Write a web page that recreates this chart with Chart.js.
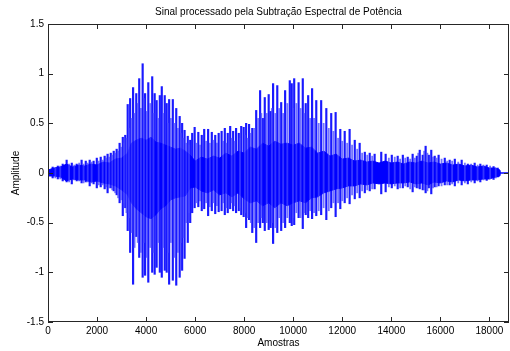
<!DOCTYPE html>
<html>
<head>
<meta charset="utf-8">
<title>Sinal processado pela Subtração Espectral de Potência</title>
<script src="https://cdn.jsdelivr.net/npm/chart.js@4"></script>
<style>
  html, body { margin: 0; padding: 0; background: #fff; }
  canvas { display: block; }
</style>
</head>
<body>
<canvas id="sinalChart" width="510" height="351"></canvas>
<script>
// ================= DATA =================
const xTicks = [0, 2000, 4000, 6000, 8000, 10000, 12000, 14000, 16000, 18000];
const yTicks = [-1.5, -1, -0.5, 0, 0.5, 1, 1.5];

// dense body of the waveform (envelope of the solid blue part)
const coreX = [0, 250, 500, 750, 1000, 1250, 1500, 1750, 2000, 2250, 2500, 2750, 3000, 3250, 3400, 3600, 3800, 4000, 4200, 4400, 4600, 4800, 5000, 5200, 5400, 5600, 5800,
  6000, 6250, 6500, 6750, 7000, 7250, 7500, 7750, 8000, 8250, 8500, 8750, 9000, 9250, 9500, 9750, 10000, 10250, 10500, 10750, 11000, 11250, 11500, 11750, 12000,
  12250, 12500, 12750, 13000, 13250, 13500, 13750, 14000, 14250, 14500, 14750, 15000, 15250, 15500, 15750, 16000, 16250, 16500, 16750, 17000, 17250, 17500, 17750, 18000, 18250, 18430, 18450, 18800];
const coreTop = [0.03, 0.05, 0.06, 0.09, 0.06, 0.08, 0.07, 0.09, 0.08, 0.11, 0.10, 0.14, 0.15, 0.20, 0.30, 0.33, 0.35, 0.33, 0.36, 0.31, 0.30, 0.28, 0.26, 0.24, 0.25, 0.22, 0.18,
  0.12, 0.16, 0.14, 0.17, 0.15, 0.20, 0.17, 0.22, 0.20, 0.26, 0.24, 0.30, 0.27, 0.32, 0.29, 0.30, 0.28, 0.30, 0.25, 0.26, 0.20, 0.22, 0.17, 0.19, 0.14,
  0.15, 0.12, 0.13, 0.11, 0.12, 0.10, 0.12, 0.10, 0.11, 0.09, 0.11, 0.10, 0.12, 0.10, 0.11, 0.09, 0.10, 0.08, 0.09, 0.07, 0.08, 0.06, 0.07, 0.05, 0.05, 0.03, 0, 0];
const coreBottom = [-0.03, -0.03, -0.04, -0.08, -0.06, -0.07, -0.07, -0.09, -0.08, -0.10, -0.11, -0.13, -0.17, -0.22, -0.30, -0.36, -0.40, -0.44, -0.46, -0.42, -0.36, -0.33, -0.27, -0.25, -0.24, -0.23, -0.15,
  -0.14, -0.18, -0.20, -0.17, -0.22, -0.20, -0.24, -0.20, -0.26, -0.30, -0.28, -0.33, -0.30, -0.35, -0.30, -0.33, -0.30, -0.28, -0.30, -0.25, -0.24, -0.20, -0.18, -0.16, -0.15,
  -0.13, -0.13, -0.11, -0.12, -0.10, -0.11, -0.10, -0.11, -0.10, -0.10, -0.09, -0.11, -0.10, -0.12, -0.09, -0.10, -0.08, -0.09, -0.07, -0.08, -0.07, -0.07, -0.06, -0.06, -0.04, -0.03, 0, 0];

// tall peaks sticking out of the body (sample index, max, min)
const spikeX = [
  190, 400, 600, 760, 970, 1170, 1370, 1540, 1700, 1860, 1990, 2150, 2310, 2430, 2560, 2680, 2800, 2920, 3050, 3150,
  3250, 3350, 3470, 3600, 3720, 3860, 3960, 4090, 4250, 4350, 4430, 4560, 4640, 4760, 4840, 4940, 5090, 5230, 5370, 5470, 5570, 5700, 5800, 5880,
  5980, 6130, 6270, 6370, 6530, 6680, 6820, 6960, 7080, 7210, 7330, 7430, 7550, 7670, 7780, 7880, 7980, 8080, 8200, 8330,
  8490, 8650, 8760, 8840, 9000, 9080, 9180, 9350, 9510, 9670, 9860, 9940, 10040, 10220, 10390, 10510, 10610, 10770, 10940, 11140,
  11350, 11550, 11730, 11920, 12100, 12300, 12510, 12710, 12920, 13120, 13320, 13590,
  13770, 14020, 14260, 14470, 14670, 14870, 15040, 15160, 15280, 15400, 15530, 15630, 15770, 15930, 16180, 16380, 16590, 16870, 17120, 17400, 17630, 17890, 18170, 18340
];
const spikeTop = [
  0.06, 0.07, 0.09, 0.13, 0.10, 0.09, 0.13, 0.12, 0.13, 0.12, 0.15, 0.16, 0.17, 0.19, 0.20, 0.22, 0.24, 0.30, 0.36, 0.38,
  0.69, 0.75, 0.86, 0.80, 0.95, 1.10, 0.80, 0.91, 0.97, 0.80, 0.73, 0.78, 0.87, 0.78, 0.70, 0.74, 0.74, 0.65, 0.57, 0.50, 0.43, 0.37, 0.33, 0.40,
  0.46, 0.41, 0.38, 0.44, 0.44, 0.41, 0.38, 0.40, 0.42, 0.45, 0.40, 0.47, 0.42, 0.45, 0.40, 0.47, 0.46, 0.50, 0.49, 0.45,
  0.63, 0.83, 0.55, 0.76, 0.79, 0.62, 0.90, 0.88, 0.71, 0.83, 0.93, 0.90, 0.95, 0.91, 0.95, 0.70, 0.78, 0.85, 0.73, 0.73,
  0.65, 0.60, 0.61, 0.44, 0.42, 0.44, 0.33, 0.30, 0.21, 0.20, 0.19, 0.21,
  0.19, 0.18, 0.17, 0.18, 0.16, 0.19, 0.17, 0.23, 0.18, 0.27, 0.18, 0.23, 0.17, 0.18, 0.15, 0.13, 0.14, 0.13, 0.09, 0.10, 0.09, 0.08, 0.065, 0.05
];
const spikeBottom = [
  -0.05, -0.06, -0.08, -0.09, -0.11, -0.08, -0.10, -0.09, -0.13, -0.11, -0.15, -0.14, -0.16, -0.20, -0.15, -0.18, -0.22, -0.30, -0.43, -0.35,
  -0.58, -0.80, -1.12, -0.64, -0.85, -1.05, -1.03, -1.10, -1.00, -1.02, -0.95, -1.00, -1.05, -0.98, -1.00, -1.12, -1.08, -1.13, -1.05, -0.98, -0.86, -0.70, -0.50, -0.40,
  -0.35, -0.34, -0.38, -0.36, -0.43, -0.38, -0.41, -0.39, -0.38, -0.42, -0.40, -0.36, -0.38, -0.40, -0.38, -0.42, -0.44, -0.55, -0.47, -0.60,
  -0.70, -0.55, -0.50, -0.58, -0.57, -0.55, -0.71, -0.60, -0.58, -0.55, -0.50, -0.53, -0.52, -0.45, -0.56, -0.42, -0.45, -0.46, -0.43, -0.42,
  -0.47, -0.35, -0.44, -0.36, -0.30, -0.31, -0.26, -0.25, -0.20, -0.18, -0.16, -0.21,
  -0.19, -0.15, -0.16, -0.15, -0.14, -0.19, -0.15, -0.16, -0.17, -0.20, -0.15, -0.21, -0.14, -0.13, -0.12, -0.12, -0.13, -0.12, -0.11, -0.10, -0.09, -0.075, -0.065, -0.04
];

// smaller peaks in between the tall ones (drawn lighter)
const minorX = [
  300, 500, 860, 1070, 1270, 1450, 1620, 1780, 2070, 2230, 2370, 2500, 2620, 2740, 2860, 2980, 3100, 3200,
  3300, 3410, 3530, 3660, 3790, 3910, 4030, 4170, 4300, 4500, 4700, 4890, 5010, 5160, 5300, 5420, 5520, 5640, 5750,
  6050, 6200, 6450, 6600, 6750, 6890, 7140, 7270, 7490, 7610, 7830, 8030, 8140, 8270, 8410,
  8570, 8700, 8920, 9130, 9270, 9430, 9590, 9760, 9990, 10130, 10300, 10450, 10690, 10850, 11040, 11240, 11450, 11640, 11830, 12000, 12200, 12400, 12610, 12810, 13020, 13220,
  13900, 14140, 14360, 14570, 14770, 14960, 15100, 15340, 15470, 15700, 15850, 16050, 16280, 16480, 16730, 17000, 17260, 17520, 17760, 18030, 18260
];
const minorTop = [
  0.05, 0.07, 0.09, 0.08, 0.10, 0.09, 0.10, 0.11, 0.12, 0.13, 0.15, 0.16, 0.18, 0.20, 0.22, 0.26, 0.30, 0.35,
  0.45, 0.55, 0.60, 0.70, 0.65, 0.75, 0.62, 0.70, 0.60, 0.55, 0.60, 0.50, 0.55, 0.50, 0.45, 0.40, 0.35, 0.30, 0.28,
  0.30, 0.28, 0.32, 0.30, 0.33, 0.30, 0.32, 0.30, 0.35, 0.32, 0.35, 0.38, 0.35, 0.40, 0.45,
  0.55, 0.60, 0.60, 0.65, 0.60, 0.65, 0.60, 0.70, 0.65, 0.70, 0.65, 0.60, 0.55, 0.55, 0.50, 0.50, 0.45, 0.42, 0.35, 0.32, 0.30, 0.28, 0.24, 0.20, 0.18, 0.17,
  0.15, 0.16, 0.14, 0.15, 0.14, 0.15, 0.20, 0.22, 0.20, 0.16, 0.15, 0.14, 0.12, 0.12, 0.11, 0.10, 0.09, 0.08, 0.08, 0.07, 0.05
];
const minorBottom = [
  -0.05, -0.06, -0.09, -0.07, -0.08, -0.10, -0.09, -0.10, -0.12, -0.12, -0.14, -0.15, -0.17, -0.20, -0.25, -0.27, -0.30, -0.40,
  -0.45, -0.60, -0.75, -0.70, -0.80, -0.70, -0.85, -0.75, -0.80, -0.70, -0.75, -0.80, -0.70, -0.85, -0.80, -0.70, -0.65, -0.50, -0.40,
  -0.30, -0.28, -0.30, -0.34, -0.30, -0.33, -0.30, -0.35, -0.30, -0.33, -0.35, -0.40, -0.45, -0.50, -0.55,
  -0.50, -0.45, -0.50, -0.50, -0.55, -0.45, -0.50, -0.45, -0.45, -0.40, -0.45, -0.40, -0.38, -0.40, -0.38, -0.35, -0.38, -0.30, -0.30, -0.28, -0.25, -0.22, -0.20, -0.18, -0.17, -0.16,
  -0.14, -0.13, -0.15, -0.13, -0.16, -0.14, -0.15, -0.17, -0.18, -0.15, -0.14, -0.13, -0.12, -0.11, -0.10, -0.10, -0.09, -0.08, -0.07, -0.06, -0.05
];

const X_MAX = 18800;
const BLUE = "#0000ff";
const FONT = "'Liberation Sans', Arial, Helvetica, sans-serif";

// ================= INWARD TICKS + BOX (matlab style) =================
const boxTicks = {
  id: "boxTicks",
  afterDraw(chart) {
    const { ctx, chartArea: a, scales: { x, y } } = chart;
    const len = 5;
    ctx.save();
    ctx.strokeStyle = "#262626";
    ctx.lineWidth = 1;
    ctx.strokeRect(a.left + 0.5, a.top + 0.5, a.right - a.left - 1, a.bottom - a.top - 1);
    ctx.beginPath();
    xTicks.forEach(v => {
      const px = Math.round(x.getPixelForValue(v)) + 0.5;
      ctx.moveTo(px, a.bottom); ctx.lineTo(px, a.bottom - len);
      ctx.moveTo(px, a.top); ctx.lineTo(px, a.top + len);
    });
    yTicks.forEach(v => {
      const py = Math.round(y.getPixelForValue(v)) + 0.5;
      ctx.moveTo(a.left, py); ctx.lineTo(a.left + len, py);
      ctx.moveTo(a.right, py); ctx.lineTo(a.right - len, py);
    });
    ctx.stroke();
    ctx.restore();
  }
};

// ================= CHART =================
const ctx = document.getElementById("sinalChart").getContext("2d");

new Chart(ctx, {
  type: "line",
  data: {
    datasets: [
      {
        type: "bar",
        data: minorX.map((s, i) => ({ x: s, y: [minorBottom[i], minorTop[i]] })),
        backgroundColor: "rgba(70,70,255,0.75)",
        borderWidth: 0,
        barThickness: 1.2,
        grouped: false
      },
      {
        type: "bar",
        data: spikeX.map((s, i) => ({ x: s, y: [spikeBottom[i], spikeTop[i]] })),
        backgroundColor: "rgba(0,0,255,0.9)",
        borderWidth: 0,
        barThickness: 1.5,
        grouped: false
      },
      {
        data: coreX.map((s, i) => ({ x: s, y: coreTop[i] })),
        borderColor: BLUE,
        backgroundColor: BLUE,
        borderWidth: 1,
        pointRadius: 0,
        fill: "+1"
      },
      {
        data: coreX.map((s, i) => ({ x: s, y: coreBottom[i] })),
        borderColor: BLUE,
        borderWidth: 1,
        pointRadius: 0,
        fill: false
      }
    ]
  },
  options: {
    responsive: false,
    animation: false,
    events: [],
    layout: { padding: { left: 0, right: 1, top: 0, bottom: 0 } },
    plugins: {
      legend: { display: false },
      tooltip: { enabled: false },
      title: {
        display: true,
        text: "Sinal processado pela Subtração Espectral de Potência",
        fullSize: false,
        color: "#000",
        font: { family: FONT, size: 10, weight: "normal" },
        padding: { top: 6, bottom: 6 }
      }
    },
    scales: {
      x: {
        type: "linear",
        min: 0,
        max: X_MAX,
        offset: false,
        afterBuildTicks: axis => { axis.ticks = xTicks.map(v => ({ value: v })); },
        afterFit: axis => { axis.height = 29; },
        grid: { display: false, drawTicks: false },
        border: { display: false },
        ticks: {
          padding: 3,
          maxRotation: 0,
          autoSkip: false,
          color: "#000",
          font: { family: FONT, size: 10 },
          callback: v => String(v)
        },
        title: {
          display: true,
          text: "Amostras",
          color: "#000",
          font: { family: FONT, size: 10 },
          padding: { top: 0, bottom: 2 }
        }
      },
      y: {
        min: -1.5,
        max: 1.5,
        afterBuildTicks: axis => { axis.ticks = yTicks.map(v => ({ value: v })); },
        afterFit: axis => { axis.width = 48; },
        grid: { display: false, drawTicks: false },
        border: { display: false },
        ticks: {
          padding: 4,
          color: "#000",
          font: { family: FONT, size: 10 },
          callback: v => String(v)
        },
        title: {
          display: true,
          text: "Amplitude",
          color: "#000",
          font: { family: FONT, size: 10 },
          padding: { top: 10, bottom: 0 }
        }
      }
    }
  },
  plugins: [boxTicks]
});
</script>
</body>
</html>
